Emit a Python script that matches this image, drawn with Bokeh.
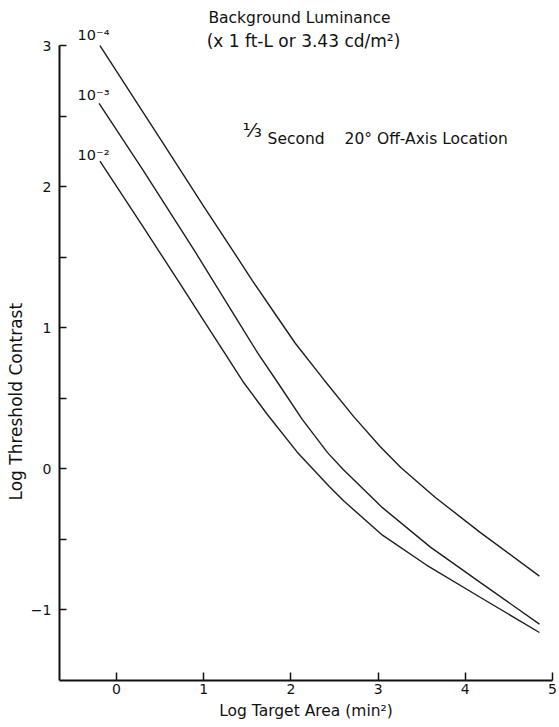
import math
from bokeh.plotting import figure
from bokeh.models import Range1d, FixedTicker, Label, Title
from bokeh.embed import file_html
from bokeh.resources import INLINE

# ---- data ----
# background luminance 10^-4 ft-L
area_lum4 = [-0.19, 0.5, 1.0, 1.33, 1.556, 1.80, 2.05, 2.38, 2.72, 3.02, 3.26, 3.65, 4.17, 4.85]
contrast_lum4 = [3.00, 2.34, 1.86, 1.55, 1.336, 1.115, 0.89, 0.63, 0.37, 0.16, 0.01, -0.20, -0.45, -0.76]
# background luminance 10^-3 ft-L
area_lum3 = [-0.2, 0.3, 0.87, 1.40, 1.62, 1.85, 2.13, 2.42, 2.60, 3.05, 3.60, 4.17, 4.85]
contrast_lum3 = [2.59, 2.12, 1.57, 1.04, 0.82, 0.61, 0.35, 0.115, -0.005, -0.275, -0.555, -0.805, -1.10]
# background luminance 10^-2 ft-L
area_lum2 = [-0.19, 0.3, 0.73, 1.0, 1.23, 1.46, 1.73, 2.07, 2.44, 2.61, 3.05, 3.55, 4.17, 4.85]
contrast_lum2 = [2.18, 1.72, 1.31, 1.05, 0.83, 0.61, 0.385, 0.12, -0.125, -0.23, -0.47, -0.68, -0.91, -1.16]

curve_labels = ["10\u207b\u2074", "10\u207b\u00b3", "10\u207b\u00b2"]
x_ticks = [0, 1, 2, 3, 4, 5]
y_ticks = [-1, 0, 1, 2, 3]
y_minor_ticks = [-0.5, 0.5, 1.5, 2.5]

FONT = "DejaVu Sans"
INK = "#111111"

p = figure(width=559, height=727,
           x_range=Range1d(-0.654, 5.0), y_range=Range1d(-1.5, 3.319),
           output_backend="svg", toolbar_location=None,
           min_border_left=59, min_border_right=7, min_border_top=0, min_border_bottom=47)
p.outline_line_color = None
p.xgrid.grid_line_color = None
p.ygrid.grid_line_color = None
p.background_fill_color = "white"
p.border_fill_color = "white"

for xs, ys in [(area_lum4, contrast_lum4), (area_lum3, contrast_lum3), (area_lum2, contrast_lum2)]:
    p.line(xs, ys, line_color="#1e1e1e", line_width=1.4)

# axes
xa = p.xaxis[0]
xa.ticker = FixedTicker(ticks=x_ticks)
xa.axis_line_width = 2
xa.axis_line_color = INK
xa.major_tick_in = 8
xa.major_tick_out = 0
xa.major_tick_line_width = 1.5
xa.major_tick_line_color = INK
xa.minor_tick_line_color = None
xa.major_label_standoff = 3
xa.major_label_text_font = FONT
xa.major_label_text_font_size = "14px"
xa.major_label_text_color = INK
xa.axis_label = "Log Target Area (min\u00b2)"
xa.axis_label_text_font = FONT
xa.axis_label_text_font_size = "15.5px"
xa.axis_label_text_font_style = "normal"
xa.axis_label_text_color = INK
xa.axis_label_standoff = 5

ya = p.yaxis[0]
ya.ticker = FixedTicker(ticks=y_ticks, minor_ticks=y_minor_ticks)
ya.bounds = (-1.5, 3.0)
ya.axis_line_width = 2
ya.axis_line_color = INK
ya.major_tick_in = 7
ya.major_tick_out = 0
ya.minor_tick_in = 7
ya.minor_tick_out = 0
ya.major_tick_line_width = 1.5
ya.minor_tick_line_width = 1.5
ya.major_tick_line_color = INK
ya.minor_tick_line_color = INK
ya.major_label_standoff = 8
ya.major_label_text_font = FONT
ya.major_label_text_font_size = "14px"
ya.major_label_text_color = INK

# y-axis title as a side title so it can sit off-centre like the reference
ytitle = Title(text="Log Threshold Contrast", align="left", offset=180,
               text_font=FONT, text_font_size="17px", text_font_style="normal",
               text_color=INK, standoff=4)
p.add_layout(ytitle, "left")

def add_text(x, y, text, size="15.5px", align="left"):
    p.add_layout(Label(x=x, y=y, text=text, text_font=FONT, text_font_size=size,
                       text_color=INK, text_align=align, text_baseline="middle"))

# header
add_text(2.099, 3.192, "Background Luminance", align="center")
add_text(2.144, 3.03, "(x 1 ft-L or 3.43 cd/m\u00b2)", size="17px", align="center")

# condition
add_text(1.445, 2.398, "\u2153", size="20px")
add_text(1.732, 2.341, "Second")
add_text(2.615, 2.341, "20\u00b0 Off-Axis Location")

# curve labels
for lab, yy in zip(curve_labels, [3.071, 2.646, 2.221]):
    add_text(-0.447, yy, lab, size="14.5px")

open("out.html", "w").write(file_html(p, INLINE))
